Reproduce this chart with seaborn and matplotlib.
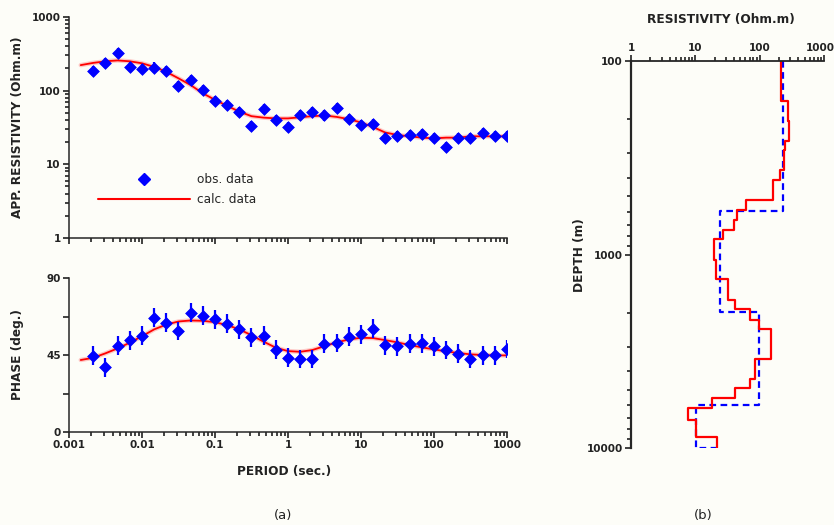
import numpy as np
import matplotlib
matplotlib.use("Agg")
import matplotlib.pyplot as plt
import seaborn as sns
from matplotlib.lines import Line2D
from matplotlib.transforms import ScaledTranslation

# ---------------- data ----------------
period = [0.00215, 0.00316, 0.00464, 0.00681, 0.01, 0.0147, 0.0215, 0.0316, 0.0464, 0.0681,
          0.1, 0.147, 0.215, 0.316, 0.464, 0.681, 1, 1.47, 2.15, 3.16,
          4.64, 6.81, 10, 14.7, 21.5, 31.6, 46.4, 68.1, 100, 147,
          215, 316, 464, 681, 1000]
app_res_obs = [186, 234, 326, 211, 194, 206, 184, 115, 139, 102,
               72, 63, 51, 33, 56, 40, 32, 47, 51, 46,
               58, 41, 34, 35, 23, 24, 25, 26, 23, 17.4,
               23, 23, 27, 24, 24]
phase_obs = [44.6, 37.8, 50.4, 53.5, 56.4, 66.7, 64.0, 59.0, 69.8, 67.9,
             65.9, 63.4, 60.1, 55.3, 56.2, 48.1, 43.4, 42.7, 42.7, 51.6,
             52.0, 55.7, 57.2, 60.5, 50.8, 50.2, 51.6, 51.8, 50.2, 47.9,
             45.8, 42.7, 44.8, 44.8, 48.5]

calc_period = [0.00145] + period
calc_res = [222, 238, 250, 257, 250, 235, 210, 180, 147, 119, 92,
            75, 62, 52, 45, 43, 42, 42, 43.5, 45, 46,
            44, 41, 37, 32, 27, 25, 24, 23, 22.5, 23,
            23, 24, 24, 24, 24]
calc_phase = [42.1, 43.4, 46.0, 48.9, 52.2, 56.0, 60.0, 62.8, 64.6, 65.2, 65.0,
              64.2, 62.5, 60.0, 56.6, 52.8, 49.3, 47.3, 46.9, 47.9, 50.2,
              52.4, 54.1, 55.1, 54.9, 53.7, 52.4, 50.8, 49.5, 48.3, 47.1,
              46.2, 45.4, 45.0, 44.8, 44.8]

res_rel_err = 1.17      # multiplicative error on app. resistivity
phase_err = 5.5         # degrees

# layered models (top depth in m, resistivity in Ohm.m)
red_tops = [100, 160, 204, 259, 287, 364, 413, 524, 586, 665, 743, 836,
            1070, 1346, 1710, 1918, 2168, 2414, 3478, 4415, 4915, 5494, 6210, 7130, 8770]
red_rho = [218, 277, 286, 251, 243, 210, 162, 61, 45, 40, 26.5, 19.2,
           21.3, 32, 42, 70, 97, 151, 84, 72, 41, 18, 7.8, 10.2, 21.9]
blue_tops = [100, 596, 1982, 5970]
blue_rho = [234, 24.6, 97, 10.2]
blue_halfspace = 25.2
max_depth = 10000

xtick_vals = [0.001, 0.01, 0.1, 1, 10, 100, 1000]
xtick_labels = ["0.001", "0.01", "0.1", "1", "10", "100", "1000"]
res_tick_vals = [1, 10, 100, 1000]
res_tick_labels = ["1", "10", "100", "1000"]
phase_tick_vals = [0, 45, 90]
phase_tick_labels = ["0", "45", "90"]
depth_tick_vals = [100, 1000, 10000]
depth_tick_labels = ["100", "1000", "10000"]


def log_minor(lo_exp, hi_exp):
    return [m * 10.0 ** e for e in range(lo_exp, hi_exp) for m in range(2, 10)]


# ---------------- style ----------------
sns.set_style("ticks")
plt.rcParams['font.family'] = ['DejaVu Sans']
plt.rcParams['font.weight'] = 'bold'
plt.rcParams['axes.linewidth'] = 1.1

BLUE = '#0000ff'
RED = '#ff0000'
BG = '#fdfdf8'
TXT = '#222222'

fig = plt.figure(figsize=(8.34, 5.25), dpi=100)
fig.patch.set_facecolor(BG)

ax1 = fig.add_axes([0.0827, 0.5467, 0.5252, 0.421])
ax2 = fig.add_axes([0.0827, 0.1771, 0.5252, 0.2933])
ax3 = fig.add_axes([0.7566, 0.1467, 0.2314, 0.737])
for ax in (ax1, ax2, ax3):
    ax.set_facecolor('none')

per = np.array(period)
res = np.array(app_res_obs)
ph = np.array(phase_obs)

# ---- apparent resistivity ----
ax1.set_xscale('log')
ax1.set_yscale('log')
ax1.plot(calc_period, calc_res, color='#ff8c8c', lw=3.2, alpha=0.45, zorder=1)
sns.lineplot(x=calc_period, y=calc_res, color=RED, lw=1.3, ax=ax1, zorder=2)
ax1.errorbar(per, res, yerr=[res - res / res_rel_err, res * res_rel_err - res],
             fmt='none', ecolor=BLUE, elinewidth=1.6, capsize=0, zorder=3)
sns.scatterplot(x=per, y=res, marker='D', s=36, color=BLUE, edgecolor=BLUE,
                linewidth=0.5, ax=ax1, zorder=4)
ax1.set_xlim(0.001, 1000)
ax1.set_ylim(1, 1000)

# ---- phase ----
ax2.set_xscale('log')
ax2.plot(calc_period, calc_phase, color='#ff8c8c', lw=3.2, alpha=0.45, zorder=1)
sns.lineplot(x=calc_period, y=calc_phase, color=RED, lw=1.3, ax=ax2, zorder=2)
ax2.errorbar(per, ph, yerr=phase_err, fmt='none', ecolor=BLUE, elinewidth=1.6,
             capsize=0, zorder=3)
sns.scatterplot(x=per, y=ph, marker='D', s=36, color=BLUE, edgecolor=BLUE,
                linewidth=0.5, ax=ax2, zorder=4)
ax2.set_xlim(0.001, 1000)
ax2.set_ylim(0, 90)

# ---- layered model ----
def step_coords(tops, rho, bottom):
    xs, ys = [], []
    bots = list(tops[1:]) + [bottom]
    for t, b, r in zip(tops, bots, rho):
        xs += [r, r]
        ys += [t, b]
    return xs, ys

bx, by = step_coords(blue_tops, blue_rho, max_depth)
bx.append(blue_halfspace)
by.append(max_depth)
rx, ry = step_coords(red_tops, red_rho, max_depth)

ax3.set_xscale('log')
ax3.set_yscale('log')
sns.lineplot(x=bx, y=by, sort=False, estimator=None, color=BLUE, lw=1.6,
             linestyle=(0, (3, 2)), ax=ax3)
sns.lineplot(x=rx, y=ry, sort=False, estimator=None, color=RED, lw=1.6, ax=ax3)
ax3.set_xlim(1, 1000)
ax3.set_ylim(10000, 100)

# ---- axes decoration ----
for ax in (ax1, ax2):
    sns.despine(ax=ax)
    ax.set_xlabel('')
    ax.set_ylabel('')
    ax.set_xticks(xtick_vals)
    ax.set_xticks(log_minor(-3, 3), minor=True)

ax1.set_xticklabels([''] * len(xtick_vals))
ax1.set_yticks(res_tick_vals, res_tick_labels)
ax1.set_yticks(log_minor(0, 3), minor=True)

ax2.set_xticks(xtick_vals, xtick_labels)
ax2.set_yticks(phase_tick_vals, phase_tick_labels)
ax2.set_yticks([22.5, 67.5], minor=True)

ax3.set_xlabel('')
ax3.set_ylabel('')
for s in ('right', 'bottom'):
    ax3.spines[s].set_visible(False)
ax3.spines['top'].set_visible(True)
ax3.spines['left'].set_linewidth(1.6)
ax3.spines['top'].set_linewidth(1.3)
ax3.xaxis.tick_top()
ax3.set_xticks(res_tick_vals, res_tick_labels)
ax3.set_xticks(log_minor(0, 3), minor=True)
ax3.set_yticks(depth_tick_vals, depth_tick_labels)
ax3.set_yticks(log_minor(2, 4), minor=True)

for ax in (ax1, ax2, ax3):
    ax.tick_params(axis='both', which='major', length=4.5, width=1.2, direction='out',
                   labelsize=7.5, colors=TXT, pad=1.5)
    ax.tick_params(axis='both', which='minor', length=3, width=1.2, direction='out',
                   color=TXT)
ax2.tick_params(axis='y', which='minor', length=4.5)

# legend
handles = [Line2D([], [], color=BLUE, marker='D', markersize=6.5, linestyle='none'),
           Line2D([], [], color=RED, lw=1.5)]
ax1.legend(handles, ['obs. data', 'calc. data'], loc='upper left',
           bbox_to_anchor=(0.066, 0.293), frameon=False,
           handlelength=7.6, handletextpad=0.6, labelspacing=0.6,
           borderpad=0, borderaxespad=0, numpoints=1,
           prop={'weight': 'normal', 'size': 8.7})

# keep the last top label inside the canvas
fig.canvas.draw()
last = ax3.xaxis.get_major_ticks()[-1].label2
last.set_transform(last.get_transform() + ScaledTranslation(-4 / 100, 0, fig.dpi_scale_trans))

# ---- text labels ----
lab = dict(fontsize=8.7, fontweight='bold', color=TXT)
fig.text(0.021, 1 - 127 / 525, 'APP. RESISTIVITY (Ohm.m)', rotation=90, ha='center', va='center', **lab)
fig.text(0.021, 1 - 355 / 525, 'PHASE (deg.)', rotation=90, ha='center', va='center', **lab)
fig.text(284 / 834, 1 - 471 / 525, 'PERIOD (sec.)', ha='center', va='center', **lab)
fig.text(721 / 834, 1 - 20 / 525, 'RESISTIVITY (Ohm.m)', ha='center', va='center', **lab)
fig.text(579 / 834, 1 - 255 / 525, 'DEPTH (m)', rotation=90, ha='center', va='center', **lab)
fig.text(283 / 834, 1 - 516 / 525, '(a)', ha='center', va='center', fontsize=9.5,
         fontweight='normal', color=TXT)
fig.text(703 / 834, 1 - 516 / 525, '(b)', ha='center', va='center', fontsize=9.5,
         fontweight='normal', color=TXT)

fig.savefig('out.png', dpi=100, facecolor=BG)
